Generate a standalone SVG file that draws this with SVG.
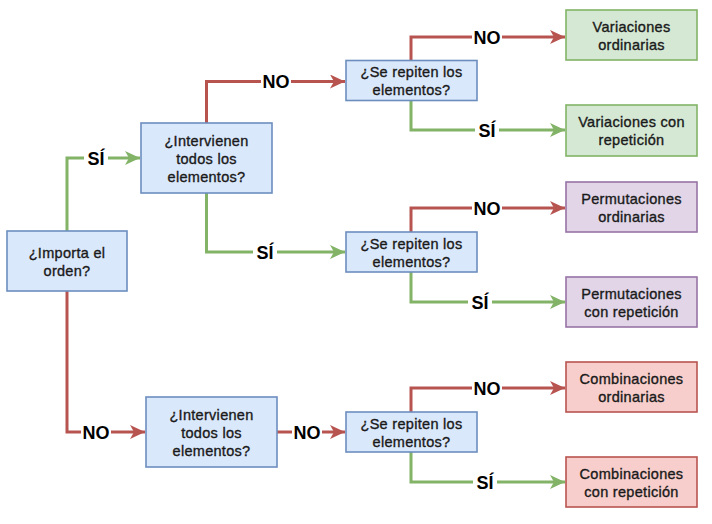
<svg xmlns="http://www.w3.org/2000/svg" width="712" height="524" viewBox="0 0 712 524">
<style>
.q{fill:#dae8fc;stroke:#6c8ebf;stroke-width:1.6}
.g{fill:#d5e8d4;stroke:#82b366;stroke-width:1.6}
.p{fill:#e1d5e7;stroke:#9673a6;stroke-width:1.6}
.r{fill:#f8cecc;stroke:#b85450;stroke-width:1.6}
.t{font-family:"Liberation Sans",Arial,sans-serif;font-size:14.5px;fill:#1a1a1a;stroke:#1a1a1a;stroke-width:0.35;text-anchor:middle;letter-spacing:0.3px}
.er{fill:none;stroke:#b85450;stroke-width:3}
.eg{fill:none;stroke:#82b366;stroke-width:3}
.lb{font-family:"Liberation Sans",Arial,sans-serif;font-size:18px;font-weight:bold;fill:#000;text-anchor:middle}
.bg{fill:#fff}
</style>
<defs>
<marker id="ar" markerUnits="userSpaceOnUse" markerWidth="16" markerHeight="14" refX="15" refY="7" orient="auto"><path d="M0,0 L15,7 L0,14 L4,7 z" fill="#b85450"/></marker>
<marker id="ag" markerUnits="userSpaceOnUse" markerWidth="16" markerHeight="14" refX="15" refY="7" orient="auto"><path d="M0,0 L15,7 L0,14 L4,7 z" fill="#82b366"/></marker>
</defs>
<g id="connectors">
<path class="eg" d="M67,231 V158 H140" marker-end="url(#ag)"/>
<path class="er" d="M67,291 V432 H145" marker-end="url(#ar)"/>
<path class="er" d="M206.5,123 V81.5 H345" marker-end="url(#ar)"/>
<path class="eg" d="M206.5,193 V252 H345" marker-end="url(#ag)"/>
<path class="er" d="M277,432 H345" marker-end="url(#ar)"/>
<path class="er" d="M411,60.5 V37 H565" marker-end="url(#ar)"/>
<path class="eg" d="M411,100.5 V130 H565" marker-end="url(#ag)"/>
<path class="er" d="M411,232 V208 H565" marker-end="url(#ar)"/>
<path class="eg" d="M411,272 V302 H565" marker-end="url(#ag)"/>
<path class="er" d="M411,412 V388 H565" marker-end="url(#ar)"/>
<path class="eg" d="M411,452 V482 H565" marker-end="url(#ag)"/>
<rect class="bg" x="84" y="149" width="24" height="18"/><text class="lb" x="96" y="164.5">SÍ</text>
<rect class="bg" x="81" y="423" width="30" height="18"/><text class="lb" x="96" y="438.5">NO</text>
<rect class="bg" x="261" y="72.5" width="30" height="18"/><text class="lb" x="276" y="88">NO</text>
<rect class="bg" x="253" y="243" width="24" height="18"/><text class="lb" x="265" y="258.5">SÍ</text>
<rect class="bg" x="292" y="423" width="30" height="18"/><text class="lb" x="307" y="438.5">NO</text>
<rect class="bg" x="472" y="28" width="30" height="18"/><text class="lb" x="487" y="43.5">NO</text>
<rect class="bg" x="475" y="121" width="24" height="18"/><text class="lb" x="487" y="136.5">SÍ</text>
<rect class="bg" x="472" y="199" width="30" height="18"/><text class="lb" x="487" y="214.5">NO</text>
<rect class="bg" x="468" y="293" width="24" height="18"/><text class="lb" x="480" y="308.5">SÍ</text>
<rect class="bg" x="472" y="379" width="30" height="18"/><text class="lb" x="487" y="394.5">NO</text>
<rect class="bg" x="473" y="473" width="24" height="18"/><text class="lb" x="485" y="488.5">SÍ</text>
</g>
<g id="n-importa"><rect class="q" x="7" y="231" width="120" height="60"/><text class="t" x="67" y="257.5">¿Importa el</text><text class="t" x="67" y="275.5">orden?</text></g>
<g id="n-intervienen1"><rect class="q" x="141" y="123" width="131" height="70"/><text class="t" x="206.5" y="146">¿Intervienen</text><text class="t" x="206.5" y="164">todos los</text><text class="t" x="206.5" y="182">elementos?</text></g>
<g id="n-intervienen2"><rect class="q" x="146" y="397" width="131" height="70"/><text class="t" x="211.5" y="420">¿Intervienen</text><text class="t" x="211.5" y="438">todos los</text><text class="t" x="211.5" y="456">elementos?</text></g>
<g id="n-repiten1"><rect class="q" x="346" y="60.5" width="131" height="40"/><text class="t" x="411.5" y="77">¿Se repiten los</text><text class="t" x="411.5" y="95">elementos?</text></g>
<g id="n-repiten2"><rect class="q" x="346" y="232" width="131" height="40"/><text class="t" x="411.5" y="248.5">¿Se repiten los</text><text class="t" x="411.5" y="266.5">elementos?</text></g>
<g id="n-repiten3"><rect class="q" x="346" y="412" width="131" height="40"/><text class="t" x="411.5" y="428.5">¿Se repiten los</text><text class="t" x="411.5" y="446.5">elementos?</text></g>
<g id="n-var-ord"><rect class="g" x="566" y="10" width="131" height="50"/><text class="t" x="631.5" y="32">Variaciones</text><text class="t" x="631.5" y="50">ordinarias</text></g>
<g id="n-var-rep"><rect class="g" x="566" y="105" width="131" height="51"/><text class="t" x="631.5" y="127">Variaciones con</text><text class="t" x="631.5" y="145">repetición</text></g>
<g id="n-per-ord"><rect class="p" x="566" y="182" width="131" height="50"/><text class="t" x="631.5" y="203.5">Permutaciones</text><text class="t" x="631.5" y="221.5">ordinarias</text></g>
<g id="n-per-rep"><rect class="p" x="566" y="277" width="131" height="50"/><text class="t" x="631.5" y="298.5">Permutaciones</text><text class="t" x="631.5" y="316.5">con repetición</text></g>
<g id="n-com-ord"><rect class="r" x="566" y="362" width="131" height="50"/><text class="t" x="631.5" y="383.5">Combinaciones</text><text class="t" x="631.5" y="401.5">ordinarias</text></g>
<g id="n-com-rep"><rect class="r" x="566" y="457" width="131" height="50"/><text class="t" x="631.5" y="478.5">Combinaciones</text><text class="t" x="631.5" y="496.5">con repetición</text></g>
</svg>
